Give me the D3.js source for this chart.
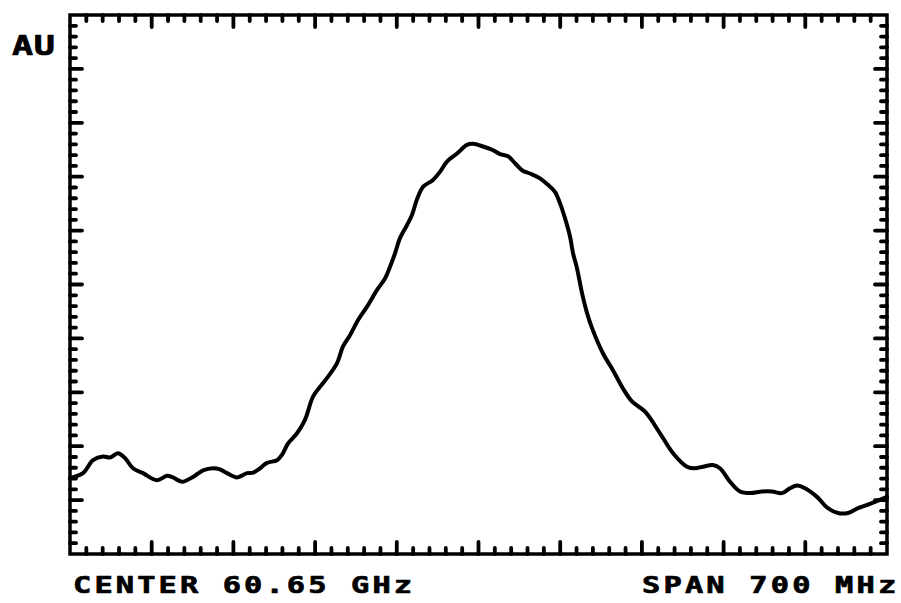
<!DOCTYPE html>
<html>
<head>
<meta charset="utf-8">
<script src="https://cdn.jsdelivr.net/npm/d3@7"></script>
<style>
  html, body { margin: 0; padding: 0; background: #fff; }
  svg { display: block; }
  .lbl { font-family: "DejaVu Sans Mono", monospace; font-weight: bold; fill: #000; stroke: #000; stroke-width: 0.7; stroke-linejoin: round; }
</style>
</head>
<body>
<svg id="chart" width="901" height="603"></svg>
<script>
// Frequency offset from centre (MHz), span 700 MHz
const freqOffsetMHz = [-350,-338.9,-330.3,-321.7,-315.7,-308.9,-302.9,-296.0,-287.5,-275.5,-266.9,-261.8,-254.0,-244.6,-236.0,-227.5,-221.5,-215.5,-206.9,-198.3,-193.2,-187.2,-181.2,-172.6,-168.4,-163.2,-155.5,-148.7,-141.8,-135.8,-128.9,-121.2,-116.1,-110.1,-103.2,-95.5,-86.9,-80.1,-75.8,-71.5,-67.3,-61.3,-57.0,-52.7,-47.6,-39.0,-33.0,-27.0,-18.4,-9.9,-4.7,3.9,11.6,18.4,25.3,31.3,37.3,44.1,52.7,59.5,65.5,69.8,74.1,78.4,81.0,84.4,88.7,93.0,97.3,106.7,115.2,123.8,131.5,142.7,155.5,166.7,178.6,185.5,192.4,200.9,206.9,215.5,224.0,232.6,242.9,251.5,260.0,266.9,272.9,279.7,290.0,299.4,308.0,316.6,325.2,335.4,350];
// Amplitude in arbitrary units (screen divisions)
const amplitudeAU = [1.41,1.50,1.74,1.81,1.79,1.87,1.78,1.59,1.50,1.37,1.45,1.42,1.34,1.43,1.55,1.59,1.57,1.50,1.42,1.50,1.51,1.59,1.69,1.74,1.84,2.05,2.24,2.49,2.92,3.10,3.29,3.54,3.85,4.06,4.34,4.59,4.90,5.11,5.33,5.58,5.86,6.10,6.29,6.58,6.81,6.94,7.09,7.28,7.43,7.59,7.61,7.56,7.50,7.42,7.38,7.25,7.12,7.06,6.97,6.85,6.72,6.51,6.23,5.89,5.58,5.30,4.84,4.47,4.19,3.72,3.41,3.07,2.83,2.64,2.24,1.87,1.62,1.59,1.62,1.65,1.59,1.34,1.16,1.13,1.16,1.16,1.13,1.22,1.27,1.22,1.06,0.85,0.76,0.76,0.85,0.93,1.06];

const xDomain = [-350, 350];
const yDomain = [0, 10];
const xDivisions = 10, yDivisions = 10, minorPerDiv = 5;
const yAxisLabel = "AU";
const centerLabel = "CENTER 60.65 GHz";
const spanLabel = "SPAN 700 MHz";

const M = { left: 70, right: 887, top: 15, bottom: 554 };

const svg = d3.select("#chart");
const x = d3.scaleLinear().domain(xDomain).range([M.left, M.right]);
const y = d3.scaleLinear().domain(yDomain).range([M.bottom, M.top]);

// ticks
const xMinor = d3.range(0, xDivisions * minorPerDiv + 1).map(i => xDomain[0] + i * (xDomain[1] - xDomain[0]) / (xDivisions * minorPerDiv));
const yMinor = d3.range(0, yDivisions * minorPerDiv + 1).map(i => yDomain[0] + i * (yDomain[1] - yDomain[0]) / (yDivisions * minorPerDiv));
const minorLen = 6, majorLen = 12;

const g = svg.append("g").attr("stroke", "#000").attr("stroke-linecap", "round");

xMinor.forEach((v, i) => {
  if (i === 0 || i === xMinor.length - 1) return;
  const len = (i % minorPerDiv === 0) ? majorLen : minorLen;
  g.append("line").attr("x1", x(v)).attr("x2", x(v)).attr("y1", M.top).attr("y2", M.top + len).attr("stroke-width", 3.8);
  g.append("line").attr("x1", x(v)).attr("x2", x(v)).attr("y1", M.bottom).attr("y2", M.bottom - len).attr("stroke-width", 3.8);
});
yMinor.forEach((v, i) => {
  if (i === 0 || i === yMinor.length - 1) return;
  const len = (i % minorPerDiv === 0) ? majorLen : minorLen;
  g.append("line").attr("y1", y(v)).attr("y2", y(v)).attr("x1", M.left).attr("x2", M.left + len).attr("stroke-width", 3.8);
  g.append("line").attr("y1", y(v)).attr("y2", y(v)).attr("x1", M.right).attr("x2", M.right - len).attr("stroke-width", 3.8);
});

svg.append("rect")
  .attr("x", M.left).attr("y", M.top).attr("width", M.right - M.left).attr("height", M.bottom - M.top)
  .attr("fill", "none").attr("stroke", "#000").attr("stroke-width", 3.5);

// trace
const data = freqOffsetMHz.map((f, i) => [f, amplitudeAU[i]]);
const line = d3.line().x(d => x(d[0])).y(d => y(d[1])).curve(d3.curveCatmullRom.alpha(0.5));
svg.append("path").datum(data)
  .attr("d", line)
  .attr("fill", "none").attr("stroke", "#000").attr("stroke-width", 4)
  .attr("stroke-linejoin", "round").attr("stroke-linecap", "round");

// labels
svg.append("text").attr("class", "lbl")
  .attr("transform", "translate(12,55) scale(1.35,1)")
  .attr("font-size", 26).attr("letter-spacing", 0.5).text(yAxisLabel);
svg.append("text").attr("class", "lbl")
  .attr("transform", "translate(73,593) scale(1.35,1)")
  .attr("font-size", 22.5).attr("letter-spacing", 2.3).text(centerLabel);
svg.append("text").attr("class", "lbl")
  .attr("transform", "translate(642,593) scale(1.35,1)")
  .attr("font-size", 22.5).attr("letter-spacing", 2.35).text(spanLabel);
</script>
</body>
</html>
